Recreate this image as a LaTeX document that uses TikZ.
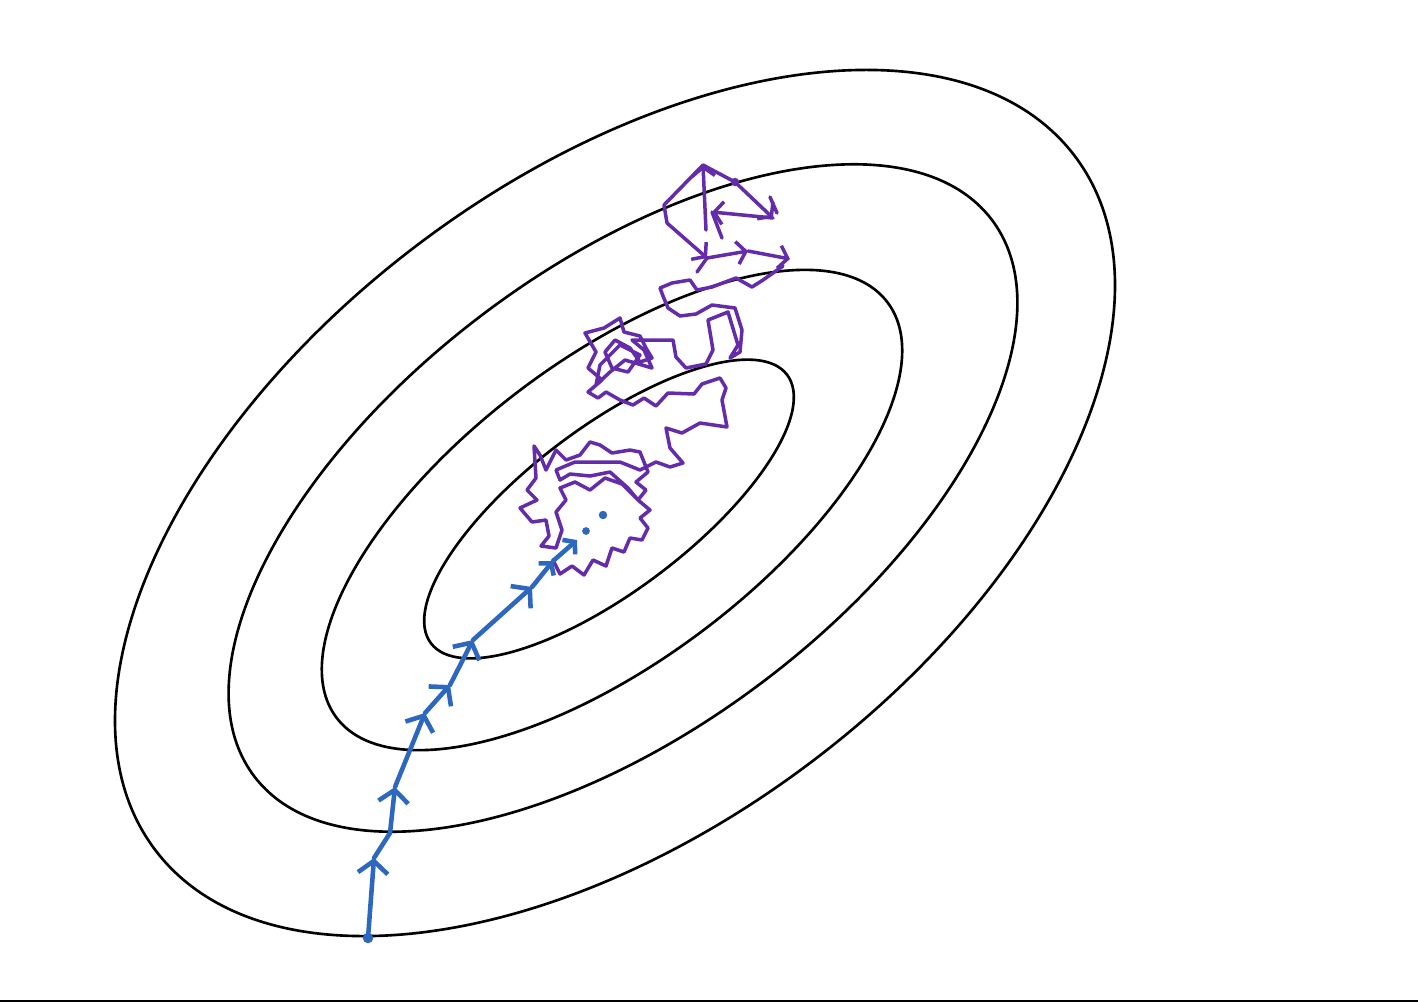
\documentclass[tikz,border=0pt]{standalone}
\usepackage{tikz}
\usepackage{xcolor}
\usetikzlibrary{arrows.meta}
\definecolor{gdblue}{RGB}{46,104,190}
\definecolor{sgdpurple}{RGB}{100,44,168}

\begin{document}
\begin{tikzpicture}[x=0.02cm,y=-0.02cm,
    contour/.style={draw=black,line width=1.5pt},
    gdpath/.style={draw=gdblue,line width=2.6pt,line cap=round,line join=round},
    gdstep/.style={gdpath,-{Straight Barb[length=7pt,width=17pt]}},
    gdsmall/.style={gdpath,-{Straight Barb[length=4.5pt,width=11pt]}},
    sgdpath/.style={draw=sgdpurple,line width=2pt,line cap=round,line join=round},
    sgdstep/.style={sgdpath,-{Straight Barb[length=5pt,width=13pt]}}]
  \useasboundingbox (0,0) rectangle (1418,1002);
  \draw[line width=0.9pt] (0,1001.2) -- (1418,1001.2);

  % level sets
  \foreach \cx/\cy/\ra/\rb in {609/509/223/82, 612/510/345/151,
                               623/498/462/231, 615/503/576/325}
    \draw[contour,rotate around={37:(\cx,\cy)}] (\cx,\cy)
      ellipse [x radius=\ra*0.02cm, y radius=\rb*0.02cm];

  % gradient descent steps
  \coordinate (g0) at (368,938);
  \coordinate (g1) at (374,858);
  \coordinate (w1) at (390,833);
  \coordinate (g2) at (395,787);
  \coordinate (w2) at (410,750);
  \coordinate (g3) at (425,713);
  \coordinate (g4) at (450,685);
  \coordinate (g5) at (473,640);
  \coordinate (g6) at (532,587);
  \coordinate (g7) at (553,561);
  \coordinate (g8) at (577,540);
  \coordinate (g9) at (586,531);
  \coordinate (g10) at (603,515);

  % stochastic walk
  \draw[sgdpath] (553,560) -- (560,574) -- (572,566) -- (584,575) -- (593,560)
    -- (606,566) -- (612,548) -- (624,552) -- (630,538) -- (642,540) -- (648,528)
    -- (640,518) -- (650,510) -- (638,500) -- (646,490) -- (636,482) -- (648,472)
    -- (640,452) -- (630,450) -- (612,453) -- (600,445) -- (590,442) -- (580,455)
    -- (566,460) -- (556,450) -- (546,470) -- (540,455) -- (534,446) -- (536,478)
    -- (527,490) -- (537,500) -- (520,508) -- (532,522) -- (546,520) -- (549,536)
    -- (541,546) -- (556,548) -- (562,530) -- (556,512) -- (566,500) -- (560,488)
    -- (575,482) -- (590,490) -- (605,478) -- (622,484) -- (638,500) -- (628,488)
    -- (610,472) -- (590,476) -- (570,474) -- (560,480) -- (556,470) -- (575,462)
    -- (598,462) -- (620,462) -- (640,470) -- (656,462)
    -- (670,467) -- (683,463) -- (670,448) -- (666,428) -- (682,433) -- (700,423)
    -- (727,427) -- (722,400) -- (726,388) -- (720,378) -- (702,384) -- (694,394)
    -- (668,393) -- (656,406) -- (644,398) -- (633,405)
    -- (620,400) -- (606,392) -- (598,398) -- (588,392) -- (602,380) -- (588,368)
    -- (596,352) -- (585,333) -- (604,328) -- (620,318) -- (624,332) -- (640,336)
    -- (646,348) -- (652,358) -- (640,362) -- (630,348) -- (615,340) -- (605,352)
    -- (612,368) -- (628,372) -- (640,355) -- (620,345) -- (600,365) -- (596,385)
    -- (610,372) -- (625,360) -- (652,368) -- (644,350) -- (632,340) -- (660,340)
    -- (673,340) -- (676,357) -- (686,368) -- (706,364) -- (713,350) -- (708,320)
    -- (728,312) -- (738,345) -- (730,358) -- (740,352) -- (742,330) -- (735,308)
    -- (712,305) -- (696,314) -- (680,316) -- (668,308) -- (663,296) -- (660,288)
    -- (672,283) -- (690,280) -- (697,290) -- (712,287) -- (736,278) -- (752,287)
    -- (763,280) -- (783,266);
  \draw[sgdstep] (667,223) -- (707,258);
  \draw[sgdstep] (707,258) -- (748,251);
  \draw[sgdstep] (748,251) -- (790,259);
  \draw[sgdpath] (697,272) -- (707,258);
  \draw[sgdstep] (706,230) -- (703,165);
  \draw[sgdpath] (703,165) -- (664,205) -- (667,223);
  \draw[sgdpath] (703,165) -- (735,182);
  \draw[sgdstep] (735,182) -- (773,218);
  \draw[sgdstep] (773,218) -- (712,212);
  \draw[sgdpath] (770,197) -- (777,213);
  \draw[sgdpath] (712,212) -- (722,238);
  \fill[sgdpurple] (735,182) circle (2.4pt);

  % gradient descent on top
  \foreach \a/\v/\b in {g0/g0/g1, g1/w1/g2, g2/w2/g3, g3/g3/g4, g4/g4/g5, g5/g5/g6}
    \draw[gdstep] (\a) -- (\v) -- (\b);
  \foreach \a/\b in {g6/g7, g7/g8}
    \draw[gdsmall] (\a) -- (\b);
  \fill[gdblue] (g0) circle (3pt);
  \fill[gdblue] (g9) circle (2.2pt);
  \fill[gdblue] (g10) circle (2.4pt);
\end{tikzpicture}
\end{document}
